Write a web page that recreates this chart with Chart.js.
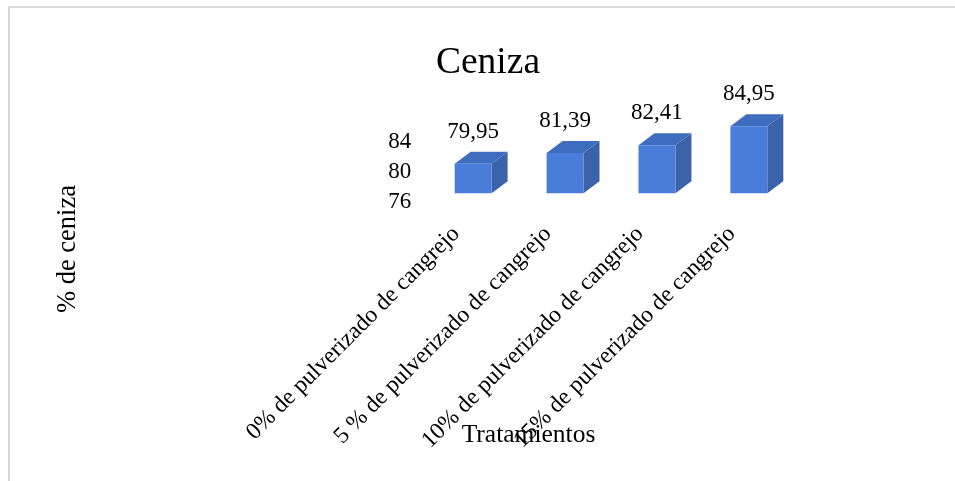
<!DOCTYPE html>
<html>
<head>
<meta charset="utf-8">
<style>
html,body{margin:0;padding:0;background:#fff;width:955px;height:481px;overflow:hidden}
#frame{position:absolute;left:8px;top:6px;width:947px;height:475px;border-top:2px solid #d9d9d9;border-left:2px solid #d9d9d9;box-sizing:border-box}
canvas{position:absolute;left:0;top:0}
</style>
<script src="https://cdn.jsdelivr.net/npm/chart.js@4"></script>
</head>
<body>
<div id="frame"></div>
<canvas id="c" width="955" height="481"></canvas>
<script>
const categories = ["0% de pulverizado de cangrejo","5 % de pulverizado de cangrejo","10% de pulverizado de cangrejo","15% de pulverizado de cangrejo"];
const values = [79.95, 81.39, 82.41, 84.95];
const valueLabels = ["79,95","81,39","82,41","84,95"];
const yTicks = [76, 80, 84];
const chartTitle = "Ceniza";
const xTitle = "Tratamientos";
const yTitle = "% de ceniza";
const serif = "'Liberation Serif','Times New Roman',serif";
const depthX = 16, depthY = 12;

const box3d = {
  id: 'box3d',
  beforeDatasetsDraw(chart) {
    const ctx = chart.ctx;
    chart.getDatasetMeta(0).data.forEach(bar => {
      const p = bar.getProps(['x','y','base','width'], true);
      const l = p.x - p.width/2, r = p.x + p.width/2;
      ctx.fillStyle = '#3e6cbf';
      ctx.beginPath();
      ctx.moveTo(l,p.y); ctx.lineTo(l+depthX,p.y-depthY); ctx.lineTo(r+depthX,p.y-depthY); ctx.lineTo(r,p.y);
      ctx.closePath(); ctx.fill();
      ctx.fillStyle = '#3a63aa';
      ctx.beginPath();
      ctx.moveTo(r,p.y); ctx.lineTo(r+depthX,p.y-depthY); ctx.lineTo(r+depthX,p.base-depthY); ctx.lineTo(r,p.base);
      ctx.closePath(); ctx.fill();
    });
  },
  afterDraw(chart) {
    const ctx = chart.ctx;
    ctx.save();
    ctx.fillStyle = '#000';
    ctx.textAlign = 'center';
    ctx.textBaseline = 'middle';
    ctx.font = "23px " + serif;
    chart.getDatasetMeta(0).data.forEach((bar,i) => {
      ctx.fillText(valueLabels[i], bar.x, bar.y - 32);
    });
    ctx.font = "25.5px " + serif;
    ctx.fillText(xTitle, 528.5, 435);
    ctx.font = "26.5px " + serif;
    ctx.translate(68, 249);
    ctx.rotate(-Math.PI/2);
    ctx.fillText(yTitle, 0, 0);
    ctx.restore();
  }
};

new Chart(document.getElementById('c'), {
  type: 'bar',
  data: { labels: categories, datasets: [{
    data: values, base: 76, yAxisID: 'y',
    backgroundColor: '#4a7dda',
    barPercentage: 0.402, categoryPercentage: 1
  }]},
  plugins: [box3d],
  options: {
    responsive: false, animation: false,
    layout: { padding: { left: 181.2, right: 160.2, top: 0, bottom: 0 } },
    plugins: {
      legend: { display: false },
      tooltip: { enabled: false },
      title: { display: true, text: chartTitle, color: '#000',
        font: { family: serif, size: 37.5, weight: 'normal', lineHeight: 1.2 },
        padding: { top: 41, bottom: 24.3 } }
    },
    scales: {
      x: {
        grid: { display: false }, border: { display: false },
        afterFit(s) { s.height = 278.7; },
        ticks: { autoSkip: false, minRotation: 45, maxRotation: 45, color: '#000', padding: 10, labelOffset: -17,
          font: { family: serif, size: 23.5 } }
      },
      y: {
        display: false,
        min: 74.8, max: 87.0667
      },
      yLabels: {
        position: 'left',
        min: 76, max: 88.2667,
        grid: { display: false }, border: { display: false },
        afterFit(s) { s.width = 246; },
        afterBuildTicks(s) { s.ticks = yTicks.map(v => ({ value: v })); },
        ticks: { color: '#000', padding: 8, font: { family: serif, size: 23 },
          callback: v => String(v) }
      }
    }
  }
});
</script>
</body>
</html>
